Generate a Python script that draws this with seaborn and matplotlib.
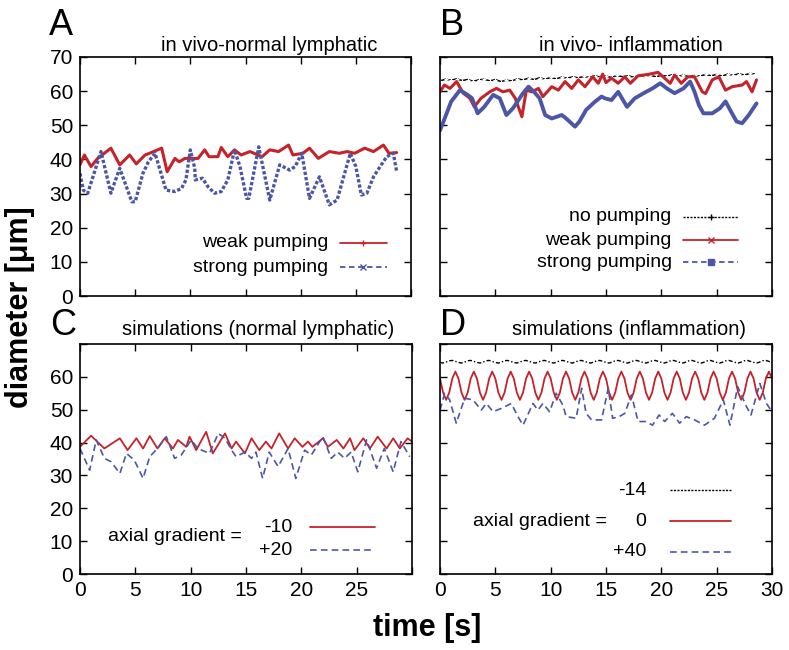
import numpy as np
import matplotlib
matplotlib.use("Agg")
import matplotlib.pyplot as plt
import seaborn as sns

# ---- panel A: in vivo, normal lymphatic ----
a_t_weak = [0.0, 0.4, 1.0, 1.6, 2.8, 3.6, 4.5, 5.1, 5.9, 6.3, 7.4, 7.9, 8.6, 9.0, 9.5, 10.7, 11.3, 11.7,
            12.5, 12.8, 13.4, 14.0, 14.6, 15.4, 16.5, 17.2, 18.0, 18.9, 19.3, 20.2, 20.8, 21.6, 22.6,
            23.5, 24.2, 24.9, 25.8, 26.6, 27.5, 28.0, 28.7]
a_d_weak = [38.5, 41.3, 37.9, 40.3, 43.3, 38.4, 41.3, 38.7, 41.3, 41.8, 43.3, 36.4, 40.3, 39.3, 40.3, 40.3,
            42.8, 40.8, 40.8, 43.5, 40.8, 42.8, 41.3, 42.3, 40.8, 42.8, 42.3, 44.2, 41.3, 41.8, 43.3,
            40.3, 42.3, 41.8, 42.3, 41.8, 43.3, 42.3, 44.2, 41.8, 42.0]
a_t_strong = [0.0, 0.3, 0.7, 1.9, 2.8, 3.6, 4.7, 5.0, 5.7, 6.2, 6.8, 7.8, 8.6, 9.2, 9.6, 10.0, 10.4, 10.45,
              11.1, 11.6, 12.2, 12.8, 13.4, 14.0, 14.5, 15.1, 15.3, 16.2, 17.2, 18.1, 19.0, 19.5, 20.1,
              20.8, 21.7, 22.6, 23.3, 24.5, 25.0, 25.5, 26.0, 26.6, 27.2, 27.8, 28.4, 28.7]
a_d_strong = [35.9, 31.0, 30.1, 42.3, 30.1, 37.4, 27.6, 27.6, 35.9, 39.3, 41.8, 31.0, 30.6, 31.5, 34.0,
              42.8, 37.4, 34.0, 34.5, 32.0, 30.1, 30.6, 34.0, 42.8, 37.9, 28.6, 28.6, 43.7, 28.1, 38.4,
              36.9, 37.9, 41.8, 28.6, 34.9, 26.7, 28.1, 41.8, 37.9, 29.6, 30.1, 34.9, 37.9, 40.8, 41.8,
              36.4]

# ---- panel B: in vivo, inflammation ----
b_t_none = np.arange(0, 28.6, 0.5)
b_d_none = [63.0, 63.5, 63.2, 63.6, 63.1, 63.4, 62.9, 63.3, 63.5, 63.0, 63.4, 62.8, 63.2,
            63.0, 63.6, 63.3, 63.8, 63.4, 63.9, 63.5, 64.0, 63.6, 64.1, 63.8, 64.2,
            63.9, 64.3, 64.0, 64.5, 64.1, 64.4, 64.0, 64.6, 64.2, 64.5, 64.1, 64.6,
            64.3, 64.7, 64.2, 64.6, 64.4, 64.8, 64.3, 64.7, 64.2, 64.6, 64.4, 64.9,
            64.5, 64.9, 64.4, 65.0, 64.6, 65.1, 64.7, 65.2, 65.0]
b_t_weak = [0.0, 0.4, 0.9, 1.5, 2.1, 2.7, 3.1, 3.7, 4.5, 5.1, 5.7, 6.3, 6.8, 7.4, 7.8, 8.3, 8.9, 9.3, 10.1,
            10.7, 11.3, 11.9, 12.5, 13.1, 13.8, 14.3, 14.7, 15.0, 15.5, 16.1, 16.7, 17.2, 17.9, 18.8,
            19.7, 20.3, 20.8, 21.2, 21.8, 22.4, 23.0, 23.7, 24.0, 24.6, 25.2, 25.8, 26.4, 27.3, 27.7,
            28.2, 28.6]
b_d_weak = [59.8, 61.8, 60.8, 62.8, 59.4, 57.9, 55.4, 57.9, 59.8, 60.8, 59.8, 60.3, 57.9, 52.5, 60.3,
            59.8, 60.8, 58.4, 61.3, 60.3, 62.8, 60.8, 63.3, 61.3, 64.2, 62.3, 65.0, 62.5, 63.8, 62.3,
            64.2, 62.3, 64.5, 64.9, 65.5, 63.8, 62.3, 64.7, 62.3, 64.2, 64.2, 59.8, 59.3, 63.3, 64.2,
            60.3, 61.3, 61.8, 62.8, 59.8, 63.3]
b_t_strong = [0.0, 0.6, 1.0, 1.8, 2.5, 2.9, 3.4, 4.0, 4.8, 5.4, 6.0, 6.6, 7.5, 8.0, 8.5, 9.0, 9.5, 10.1,
              11.0, 11.4, 12.2, 12.6, 13.2, 14.0, 14.6, 14.9, 15.5, 16.1, 16.9, 17.6, 18.4, 19.2, 19.9,
              20.5, 21.2, 22.0, 22.6, 23.0, 23.4, 23.8, 24.6, 25.3, 25.8, 26.3, 26.8, 27.3, 27.9, 28.6]
b_d_strong = [48.5, 53.5, 56.9, 60.3, 58.9, 57.9, 53.5, 55.4, 58.9, 57.9, 53.0, 55.0, 59.4, 61.3, 59.8,
              57.9, 53.0, 52.0, 53.0, 52.0, 49.6, 51.1, 54.5, 56.9, 58.4, 57.9, 57.4, 59.8, 55.4, 57.9,
              59.4, 60.8, 62.3, 60.8, 59.4, 60.8, 62.8, 59.8, 55.9, 53.5, 53.5, 55.0, 57.0, 54.0, 51.1,
              50.6, 53.0, 56.4]

# ---- panel C: simulations, normal lymphatic ----
c_t_m10 = [0.0, 1.0, 2.2, 3.6, 4.3, 5.1, 5.7, 6.3, 7.0, 7.65, 8.4, 8.85, 9.6, 9.9, 10.5, 11.4, 12.0, 13.1,
           13.7, 14.1, 14.9, 15.5, 16.2, 16.8, 17.3, 18.0, 18.8, 19.4, 20.1, 20.6, 21.0, 21.95, 22.4,
           23.2, 23.8, 24.4, 24.8, 25.6, 26.2, 26.9, 27.7, 28.3, 28.9, 29.6, 30.0]
c_d_m10 = [38.7, 42.1, 38.2, 41.3, 37.7, 41.3, 38.2, 42.0, 38.2, 41.3, 38.2, 40.8, 38.7, 41.8, 37.7,
           43.3, 36.7, 42.8, 38.2, 40.3, 36.7, 41.3, 37.7, 40.3, 38.2, 42.8, 38.2, 41.3, 38.7, 40.3,
           38.7, 41.3, 38.7, 40.8, 38.2, 41.3, 37.7, 41.3, 38.2, 41.8, 38.2, 41.3, 38.2, 41.3, 40.3]
c_t_p20 = [0.0, 0.87, 1.47, 2.2, 2.8, 3.6, 4.2, 4.9, 5.7, 6.3, 7.0, 7.8, 8.55, 9.15, 10.05, 10.65, 11.7,
           12.5, 13.1, 13.7, 14.1, 14.9, 15.5, 15.9, 16.5, 17.1, 17.9, 18.8, 19.5, 20.3, 20.9, 21.95,
           22.7, 23.3, 23.9, 24.5, 25.1, 25.9, 26.8, 27.5, 28.3, 29.0, 29.8]
c_d_p20 = [38.2, 31.6, 40.8, 35.2, 34.2, 30.6, 36.7, 34.7, 29.1, 35.7, 38.2, 41.8, 35.2, 36.2, 40.8,
           38.2, 36.7, 42.8, 41.3, 37.7, 35.7, 37.1, 35.2, 37.1, 29.1, 37.1, 32.7, 38.2, 29.1, 37.7,
           36.2, 41.8, 35.2, 37.1, 35.2, 37.1, 31.1, 40.8, 32.2, 38.2, 31.1, 40.3, 35.7]

# ---- panel D: simulations, inflammation ----
d_t_grid = np.linspace(0, 30, 109)
d_d_m14 = [64.4, 64.2, 64.5, 64.9, 65.0, 64.7, 64.4, 64.2, 64.5, 64.9, 65.0, 64.7,
           64.4, 64.2, 64.5, 64.9, 65.0, 64.7, 64.4, 64.2, 64.5, 64.9, 65.0, 64.7,
           64.4, 64.2, 64.5, 64.9, 65.0, 64.7, 64.4, 64.2, 64.5, 64.9, 65.0, 64.7,
           64.4, 64.2, 64.5, 64.9, 65.0, 64.7, 64.4, 64.2, 64.5, 64.9, 65.0, 64.7,
           64.4, 64.2, 64.5, 64.9, 65.0, 64.7, 64.4, 64.2, 64.5, 64.9, 65.0, 64.7,
           64.4, 64.2, 64.5, 64.9, 65.0, 64.7, 64.4, 64.2, 64.5, 64.9, 65.0, 64.7,
           64.4, 64.2, 64.5, 64.9, 65.0, 64.7, 64.4, 64.2, 64.5, 64.9, 65.0, 64.7,
           64.4, 64.2, 64.5, 64.9, 65.0, 64.7, 64.4, 64.2, 64.5, 64.9, 65.0, 64.7,
           64.4, 64.2, 64.5, 64.9, 65.0, 64.7, 64.4, 64.2, 64.5, 64.9, 65.0, 64.7, 64.4]
d_d_0 = [59.5, 55.2, 53.0, 55.2, 59.5, 61.6, 59.5, 55.2, 53.0, 55.2, 59.5, 61.6,
         59.5, 55.2, 53.0, 55.2, 59.5, 61.6, 59.5, 55.2, 53.0, 55.2, 59.5, 61.6,
         59.5, 55.2, 53.0, 55.2, 59.5, 61.6, 59.5, 55.2, 53.0, 55.2, 59.5, 61.6,
         59.5, 55.2, 53.0, 55.2, 59.5, 61.6, 59.5, 55.2, 53.0, 55.2, 59.5, 61.6,
         59.5, 55.2, 53.0, 55.2, 59.5, 61.6, 59.5, 55.2, 53.0, 55.2, 59.5, 61.6,
         59.5, 55.2, 53.0, 55.2, 59.5, 61.6, 59.5, 55.2, 53.0, 55.2, 59.5, 61.6,
         59.5, 55.2, 53.0, 55.2, 59.5, 61.6, 59.5, 55.2, 53.0, 55.2, 59.5, 61.6,
         59.5, 55.2, 53.0, 55.2, 59.5, 61.6, 59.5, 55.2, 53.0, 55.2, 59.5, 61.6,
         59.5, 55.2, 53.0, 55.2, 59.5, 61.6, 59.5, 55.2, 53.0, 55.2, 59.5, 61.6, 59.5]
d_t_p40 = [0.0, 0.42, 0.87, 1.47, 2.23, 2.98, 3.73, 4.19, 4.79, 5.54, 6.44, 7.05, 7.5, 8.4, 8.85, 9.3, 9.9,
           10.5, 11.1, 11.4, 12.3, 12.8, 13.2, 13.7, 14.6, 15.2, 15.6, 16.2, 16.7, 17.3, 17.9, 18.6,
           19.2, 19.8, 20.3, 21.0, 21.65, 22.25, 23.0, 23.9, 24.8, 25.6, 26.2, 26.9, 27.7, 28.1, 28.9,
           29.5, 29.9]
d_d_p40 = [49.9, 55.0, 53.0, 45.9, 53.5, 53.0, 49.9, 51.9, 49.4, 50.4, 51.9, 47.9, 45.3, 51.9, 49.9,
           51.9, 49.4, 55.0, 51.4, 47.9, 47.4, 56.5, 48.9, 46.9, 46.9, 56.5, 47.4, 47.9, 48.9, 54.5,
           46.4, 46.4, 45.3, 48.4, 46.4, 48.9, 45.9, 47.9, 46.9, 45.3, 47.4, 53.0, 45.3, 57.0, 50.9,
           48.4, 58.0, 51.9, 49.9]

x_ticks = [0, 5, 10, 15, 20, 25, 30]
y_ticks = [0, 10, 20, 30, 40, 50, 60, 70]

RED = "#c4232b"
BLUE = "#4b57a6"
BLACK = "#000000"

W, H = 789, 650

sns.set_theme(style="ticks")
plt.rcParams["font.family"] = ["Liberation Sans", "DejaVu Sans"]
plt.rcParams["text.color"] = "black"
plt.rcParams["xtick.color"] = "black"
plt.rcParams["ytick.color"] = "black"

fig = plt.figure(figsize=(W / 100, H / 100), dpi=100)


def px_axes(x0, y_top, x1, y_bot):
    return fig.add_axes([x0 / W, 1 - y_bot / H, (x1 - x0) / W, (y_bot - y_top) / H])


axA = px_axes(80, 57, 411, 296)
axB = px_axes(440, 57, 772, 296)
axC = px_axes(80, 344, 412, 574)
axD = px_axes(440, 344, 772, 574)

for ax in (axA, axB, axC, axD):
    ax.set_xlim(0, 30)
    ax.set_ylim(0, 70)
    ax.set_xticks(x_ticks)
    ax.set_yticks(y_ticks)
    ax.tick_params(direction="in", top=True, right=True, length=5, width=1,
                   labelsize=15, colors="black", pad=5)
    for s in ax.spines.values():
        s.set_linewidth(1.2)
        s.set_color("black")
        s.set_visible(True)
    ax.set_xlabel("")
    ax.set_ylabel("")

# tick labels
axA.set_xticklabels([])
axA.set_yticklabels([str(v) for v in y_ticks])
axB.set_xticklabels([])
axB.set_yticklabels([])
axC.set_xticklabels([str(v) for v in x_ticks[:-1]] + [""])
axC.set_yticklabels([str(v) for v in y_ticks[:-1]] + [""])
axD.set_xticklabels([str(v) for v in x_ticks])
axD.set_yticklabels([])

# ---- data ----
sns.lineplot(x=a_t_weak, y=a_d_weak, ax=axA, sort=False, estimator=None, color=RED, lw=2.2)
sns.lineplot(x=a_t_strong, y=a_d_strong, ax=axA, sort=False, estimator=None, color=BLUE, lw=2.4,
             linestyle=(0, (1.0, 0.6)))

sns.lineplot(x=b_t_none, y=b_d_none, ax=axB, sort=False, estimator=None, color=BLACK, lw=1.1,
             marker="+", markersize=3.5, markeredgewidth=0.8)
sns.lineplot(x=b_t_weak, y=b_d_weak, ax=axB, sort=False, estimator=None, color=RED, lw=2.2)
sns.lineplot(x=b_t_strong, y=b_d_strong, ax=axB, sort=False, estimator=None, color=BLUE, lw=2.8)

sns.lineplot(x=c_t_m10, y=c_d_m10, ax=axC, sort=False, estimator=None, color=RED, lw=1.3)
sns.lineplot(x=c_t_p20, y=c_d_p20, ax=axC, sort=False, estimator=None, color=BLUE, lw=1.2,
             linestyle=(0, (4, 2.5)))

sns.lineplot(x=d_t_grid, y=d_d_m14, ax=axD, sort=False, estimator=None, color=BLACK, lw=1.0,
             linestyle=(0, (3, 1.5, 1, 1.5)))
sns.lineplot(x=d_t_grid, y=d_d_0, ax=axD, sort=False, estimator=None, color=RED, lw=1.3)
sns.lineplot(x=d_t_p40, y=d_d_p40, ax=axD, sort=False, estimator=None, color=BLUE, lw=1.2,
             linestyle=(0, (4, 2.5)))

# ---- titles ----
title_fs = 14.5
axA.text(0.572, 1.05, "in vivo-normal lymphatic", transform=axA.transAxes, ha="center", va="center",
         fontsize=title_fs)
axB.text(0.575, 1.05, "in vivo- inflammation", transform=axB.transAxes, ha="center", va="center",
         fontsize=title_fs)
axC.text(0.536, 1.061, "simulations (normal lymphatic)", transform=axC.transAxes, ha="center",
         va="center", fontsize=title_fs)
axD.text(0.569, 1.061, "simulations (inflammation)", transform=axD.transAxes, ha="center",
         va="center", fontsize=title_fs)


# ---- legends (gnuplot style: label right-aligned, sample on the right) ----
def key(ax, label, x_text, y, x0, x1, color, ls, lw=1.3, marker=None, fs=14):
    ax.text(x_text, y, label, transform=ax.transAxes, ha="right", va="center", fontsize=fs)
    ax.plot([x0, x1], [y, y], transform=ax.transAxes, color=color, lw=lw, linestyle=ls)
    if marker:
        ax.plot([(x0 + x1) / 2], [y], transform=ax.transAxes, color=color, marker=marker,
                markersize=4, markeredgewidth=1)


key(axA, "weak pumping", 0.749, 0.222, 0.785, 0.927, RED, "-", marker="+")
key(axA, "strong pumping", 0.749, 0.121, 0.785, 0.927, BLUE, (0, (3, 2)), marker="x")

key(axB, "no pumping", 0.698, 0.331, 0.732, 0.898, BLACK, (0, (1.5, 1)), lw=1.0, marker="+")
key(axB, "weak pumping", 0.698, 0.234, 0.732, 0.898, RED, "-", marker="x")
key(axB, "strong pumping", 0.698, 0.142, 0.732, 0.898, BLUE, (0, (3, 2)), marker="s")

axC.text(0.084, 0.161, "axial gradient =", transform=axC.transAxes, ha="left", va="center",
         fontsize=14)
key(axC, "-10", 0.639, 0.204, 0.693, 0.889, RED, "-")
key(axC, "+20", 0.639, 0.104, 0.693, 0.889, BLUE, (0, (4, 2.5)), lw=1.2)

axD.text(0.098, 0.230, "axial gradient =", transform=axD.transAxes, ha="left", va="center",
         fontsize=14)
key(axD, "-14", 0.622, 0.365, 0.693, 0.877, BLACK, (0, (1.5, 1)), lw=1.0)
key(axD, "0", 0.622, 0.230, 0.693, 0.877, RED, "-")
key(axD, "+40", 0.622, 0.096, 0.693, 0.877, BLUE, (0, (4, 2.5)), lw=1.2)

# ---- panel letters and axis labels ----
for letter, x, y in [("A", 49, 35), ("B", 440, 35), ("C", 50, 335), ("D", 440, 335)]:
    fig.text(x / W, 1 - y / H, letter, fontsize=26, ha="left", va="baseline")

fig.text(20 / W, 1 - 307 / H, "diameter [μm]", rotation=90, ha="center", va="center",
         fontsize=22, fontweight="bold")
fig.text(427 / W, 1 - 628 / H, "time [s]", ha="center", va="center", fontsize=22,
         fontweight="bold")

fig.savefig("out.png", dpi=100)
